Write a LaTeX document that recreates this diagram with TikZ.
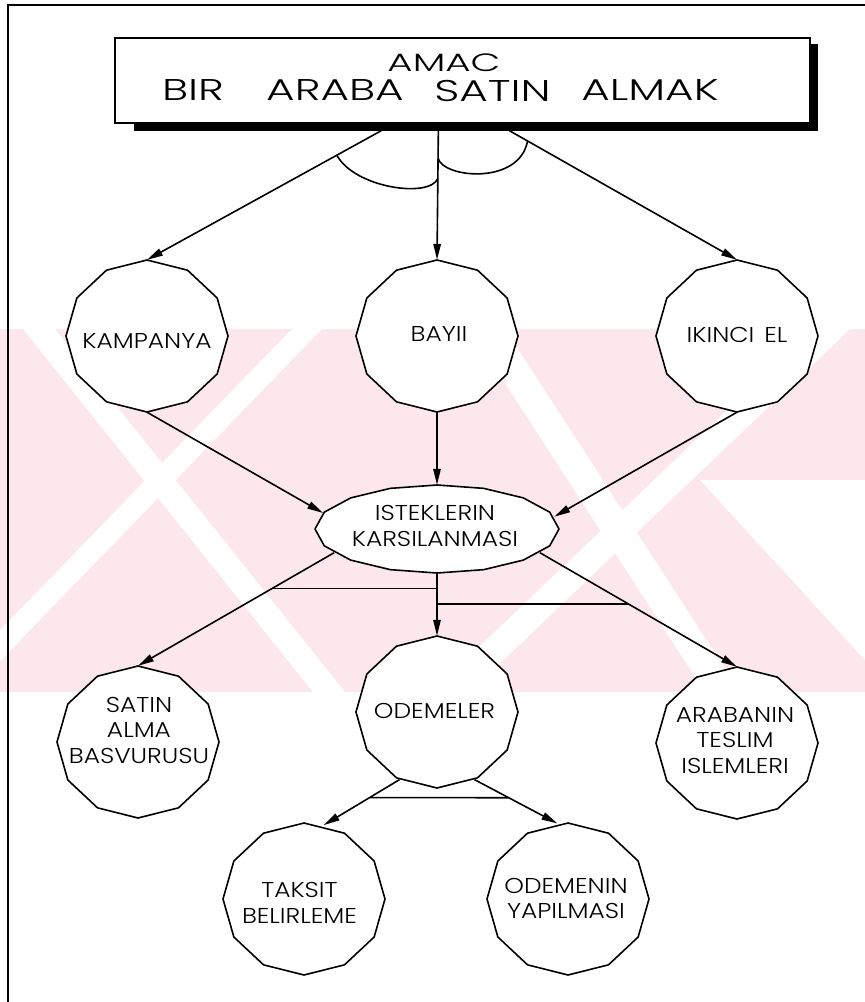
\documentclass[tikz,border=0pt]{standalone}
\usepackage{fontspec}
\setmainfont{Poppins Light}
\newfontfamily\nodefont{Poppins Light}[FakeStretch=1.16]
\newfontfamily\titlefont{Poppins Light}[FakeStretch=1.46]
\newfontfamily\amacfont{Poppins Light}[FakeStretch=1.55]
\usetikzlibrary{arrows.meta,calc,shapes.geometric}
\definecolor{wmpink}{RGB}{252,232,236}
\newcommand\gonat[3]{%
  \draw[gon] plot[samples=13,domain=0:360] ({#2+81*cos(\x)},{#3+76*sin(\x)}) -- cycle;
  \node[spot] (#1) at (#2,#3) {};}
\begin{document}
\begin{tikzpicture}[x=1pt,y=-1pt,
  wire/.style={line width=1.6pt},
  conn/.style={wire,-{Triangle[length=16pt,width=7.5pt]}},
  gon/.style={line width=1.6pt,fill=white,line join=round},
  spot/.style={ellipse,minimum width=162pt,minimum height=152pt,inner sep=0pt},
  txt/.style={align=center,inner sep=0pt,font=\nodefont\fontsize{21.5}{25.5}\selectfont},
  ttl/.style={inner sep=0pt,font=\titlefont\fontsize{30}{30}\selectfont},
]
\useasboundingbox (0,0) rectangle (865,1002);

% watermark
\begin{scope}
\clip (0,329) rectangle (865,692);
\fill[wmpink] (0,329) rectangle (865,692);
\fill[white] (23,329) -- (55,329) -- (345,692) -- (313,692) -- cycle;
\fill[white] (292,329) -- (322,329) -- (-30,692) -- (-60,692) -- cycle;
\fill[white] (812,329) -- (850,329) -- (470,692) -- (432,692) -- cycle;
\fill[white] (470,329) -- (505,329) -- (740,692) -- (705,692) -- cycle;
\fill[white] (700,480) -- (865,480) -- (865,660) -- cycle;
\end{scope}

% frame
\draw[line width=1.2pt] (8,1002) -- (8,5) -- (865,5);

% goal box
\node[draw,line width=1.3pt,fill=white,minimum width=695pt,minimum height=85pt,inner sep=0pt] (goal) at (462.5,80.5) {};
\fill ($(goal.south west)+(20,0)$) rectangle ($(goal.south east)+(7,7)$);
\fill ($(goal.north east)+(0,7)$) rectangle ($(goal.south east)+(7,7)$);
\node[inner sep=0pt,font=\amacfont\fontsize{25}{25}\selectfont] (goalA) at (444,63) {AMAC};
\node[ttl] (w1) at (193,90.5) {BIR};
\node[ttl] (w2) at (335,90.5) {ARABA};
\node[ttl] (w3) at (492.5,90.5) {SATIN};
\node[ttl] (w4) at (650,90.5) {ALMAK};

\coordinate (s1) at ($(goal.south west)+(267,7)$);
\coordinate (s2) at ($(goal.south west)+(324,7)$);
\coordinate (s3) at ($(goal.south west)+(395,7)$);

% nodes
\gonat{kamp}{147}{336}
\gonat{bayi}{437}{336}
\gonat{ikin}{737}{336}
\draw[gon] plot[samples=17,domain=0:360] ({437+122*cos(\x)},{529+44*sin(\x)}) -- cycle;
\node[ellipse,minimum width=244pt,minimum height=88pt,inner sep=0pt] (ist) at (437,529) {};
\gonat{sat}{138}{742}
\gonat{odem}{437}{712}
\gonat{arab}{737}{743}
\gonat{taks}{304}{899}
\gonat{odn}{568}{899}

% texts
\node[txt] at (147,341) {KAMPANYA};
\node[txt] at (439,334) {BAYII};
\node[txt] at (737,335) {IKINCI\hspace{10pt}EL};
\node[txt] at (435,526) {ISTEKLERIN\\KARSILANMASI};
\node[txt] at (139,730) {SATIN\\ALMA\\BASVURUSU};
\node[txt] at (434.5,710.5) {ODEMELER};
\node[txt] at (735,740.5) {ARABANIN\\TESLIM\\ISLEMLERI};
\node[txt] at (299.5,903) {TAKSIT\\BELIRLEME};
\node[txt] at (566,898.5) {ODEMENIN\\YAPILMASI};

% connectors
\draw[conn] (s1) -- (kamp.north);
\draw[conn] (s2) -- (bayi.north);
\draw[conn] (s3) -- (ikin.north);
\coordinate (a1) at ($(s1)!0.19!(kamp.north)$);
\coordinate (a2) at ($(s2)!0.37!(bayi.north)$);
\coordinate (a3) at ($(s2)!0.215!(bayi.north)$);
\coordinate (a4) at ($(s3)!0.08!(ikin.north)$);
\draw[wire] (a1) .. controls +(18,33) and +(-8,20) .. (a2);
\draw[wire] (a3) .. controls +(6,20) and +(-8,44) .. (a4);

\draw[conn] (kamp.south) -- (ist.172);
\draw[conn] (bayi.south) -- (ist.north);
\draw[conn] (ikin.south) -- (ist.6);

\draw[conn] (ist.193) -- (sat.north);
\draw[conn] (ist.south) -- (odem.north);
\draw[conn] (ist.-13) -- (arab.north);
\coordinate (b1) at ($(ist.193)!0.316!(sat.north)$);
\coordinate (b2) at ($(ist.-13)!0.447!(arab.north)$);
\draw[wire] (b1) -- (b1 -| ist.south);
\draw[wire] (b2) -- (b2 -| ist.south);

\draw[conn] (odem.241) -- (taks.75);
\draw[conn] (odem.-61) -- (odn.98);
\coordinate (b3) at ($(odem.241)!0.396!(taks.75)$);
\coordinate (b4) at ($(odem.-61)!0.413!(odn.98)$);
\draw[wire] (b3) -- (b4);
\end{tikzpicture}
\end{document}
